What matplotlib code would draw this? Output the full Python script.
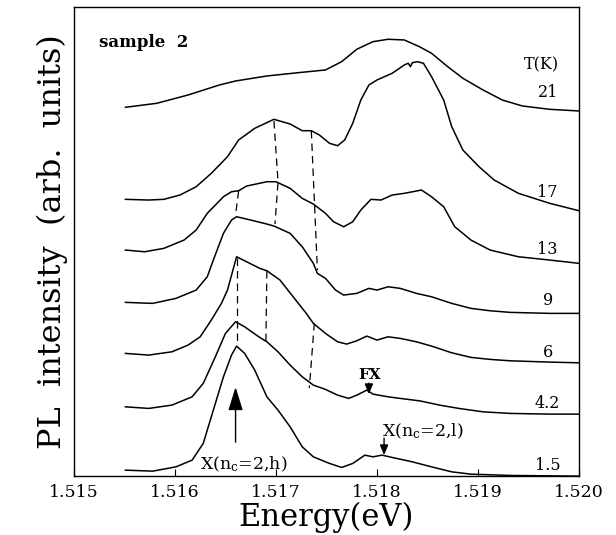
import matplotlib
matplotlib.use("Agg")
import matplotlib.pyplot as plt

plt.rcParams['font.family'] = ['DejaVu Serif']
plt.rcParams['mathtext.fontset'] = 'dejavuserif'

# spectra (energy in eV, PL intensity in arb. units incl. vertical offset)
e_21 = [1.51551, 1.51582, 1.51613, 1.51644, 1.51660, 1.51691, 1.51722, 1.51749, 1.51765, 1.51780,
        1.51796, 1.51811, 1.51827, 1.51842, 1.51854, 1.51870, 1.51885, 1.51905, 1.51924, 1.51944,
        1.51971, 1.52000]
i_21 = [368.7, 372.7, 381, 391, 395, 400, 403.3, 406, 414.3, 426.7,
        434.3, 436.7, 436, 429.3, 422.7, 409.3, 397.7, 386, 376, 370,
        366.7, 365]

e_17 = [1.51551, 1.51574, 1.51589, 1.51605, 1.51621, 1.51636, 1.51652, 1.51663, 1.51679, 1.51698,
        1.51714, 1.51726, 1.51735, 1.51743, 1.51753, 1.51761, 1.51768, 1.51776, 1.51784, 1.51792,
        1.51800, 1.51815, 1.51827, 1.51831, 1.51833, 1.51835, 1.51840, 1.51846, 1.51854, 1.51866,
        1.51874, 1.51885, 1.51901, 1.51916, 1.51940, 1.51971, 1.52000]
i_17 = [276.7, 276, 276.7, 281, 289.3, 302.7, 319.3, 336, 347.7, 356.7,
        352, 345.3, 345.3, 341, 332.7, 330.3, 336, 352.7, 376, 391,
        396, 402.7, 411, 412.7, 409.3, 413.3, 414.3, 412.7, 399.3, 376,
        349.3, 326, 309.3, 296, 282.7, 272.7, 265.3]

e_13 = [1.51551, 1.51570, 1.51589, 1.51609, 1.51621, 1.51632, 1.51648, 1.51656, 1.51663, 1.51671,
        1.51691, 1.51700, 1.51714, 1.51726, 1.51737, 1.51749, 1.51757, 1.51767, 1.51776, 1.51784,
        1.51794, 1.51804, 1.51815, 1.51827, 1.51839, 1.51844, 1.51854, 1.51866, 1.51877, 1.51893,
        1.51912, 1.51940, 1.51971, 1.52000]
i_13 = [226, 224.3, 227.7, 236, 246, 262.7, 279.3, 284.3, 285.3, 290,
        294.3, 294.3, 287.7, 277.7, 272, 262.7, 254.3, 249.3, 254.3, 266,
        276.7, 276, 281, 282.7, 285, 286, 279.3, 269.3, 249.3, 236,
        226, 219.3, 216, 212.7]

e_9 = [1.51551, 1.51578, 1.51601, 1.51621, 1.51632, 1.51638, 1.51648, 1.51656, 1.51661, 1.51675,
       1.51691, 1.51698, 1.51714, 1.51726, 1.51737, 1.51741, 1.51749, 1.51759, 1.51767, 1.51780,
       1.51792, 1.51800, 1.51811, 1.51823, 1.51839, 1.51854, 1.51874, 1.51893, 1.51912, 1.51932,
       1.51971, 1.52000]
i_9 = [173.7, 172.7, 177.7, 186, 199.3, 216, 242.7, 256, 259.3, 256,
       252, 250, 242.7, 229.3, 212.7, 202.7, 197.7, 186, 181, 182.7,
       187.7, 186, 189.3, 187.7, 182.7, 179.3, 172.7, 167.7, 165.3, 163.7,
       162.7, 162.7]

e_6 = [1.51551, 1.51574, 1.51597, 1.51613, 1.51625, 1.51636, 1.51646, 1.51652, 1.51661, 1.51684,
       1.51691, 1.51704, 1.51717, 1.51730, 1.51737, 1.51749, 1.51761, 1.51770, 1.51780, 1.51790,
       1.51800, 1.51811, 1.51823, 1.51839, 1.51854, 1.51874, 1.51893, 1.51912, 1.51932, 1.51971,
       1.52000]
i_6 = [122.7, 121, 124.3, 131, 139.3, 156, 172.7, 186, 219.3, 207.7,
       205.3, 196, 179.3, 162.7, 152.7, 142.7, 134.3, 132, 135.3, 140,
       136, 139.3, 137.7, 134.3, 130, 123.3, 118.7, 116.7, 115.3, 114,
       113.3]

e_42 = [1.51551, 1.51574, 1.51597, 1.51617, 1.51628, 1.51640, 1.51650, 1.51660, 1.51669, 1.51683,
        1.51691, 1.51702, 1.51714, 1.51726, 1.51737, 1.51749, 1.51761, 1.51772, 1.51780, 1.51790,
        1.51796, 1.51811, 1.51823, 1.51842, 1.51862, 1.51881, 1.51905, 1.51932, 1.51971, 1.52000]
i_42 = [69.3, 67.7, 71, 79.3, 92.7, 119.3, 142.7, 154.3, 149.3, 139.3,
        134.3, 124.3, 111, 99.3, 91, 86.7, 81, 77.7, 81, 86,
        82, 79.3, 77.7, 75.3, 71, 67.7, 64.3, 62.7, 62, 62]

e_15 = [1.51551, 1.51578, 1.51601, 1.51617, 1.51628, 1.51638, 1.51648, 1.51656, 1.51661, 1.51669,
        1.51679, 1.51691, 1.51702, 1.51714, 1.51726, 1.51737, 1.51753, 1.51765, 1.51776, 1.51788,
        1.51796, 1.51805, 1.51815, 1.51835, 1.51854, 1.51874, 1.51893, 1.51932, 1.52000]
i_15 = [6, 5, 9.3, 16, 32.7, 66, 99.3, 121, 130, 122.7,
        106, 79.3, 66, 49.3, 29.3, 19.3, 12.7, 8.7, 12.7, 21,
        19.3, 21, 18.7, 14.3, 9.3, 4.3, 2, 0.7, 0]

temps = ['21', '17', '13', '9', '6', '4.2', '1.5']
label_y = [383, 283.5, 227, 175.3, 124, 72.7, 10.3]

# dashed guide lines: (energies, intensities)
dash_e = [[1.51663, 1.51660], [1.51661, 1.51661],
          [1.51698, 1.51702], [1.51702, 1.51699], [1.51691, 1.51690],
          [1.51735, 1.51741], [1.51738, 1.51733]]
dash_i = [[285, 261], [218, 134],
          [355, 295], [293, 252], [205, 133],
          [345, 206], [153, 88]]

xticks = [1.515, 1.516, 1.517, 1.518, 1.519, 1.520]
xtick_labels = ['1.515', '1.516', '1.517', '1.518', '1.519', '1.520']

fig = plt.figure(figsize=(6.16, 5.35), dpi=100)
ax = fig.add_axes([0.120, 0.110, 0.820, 0.877])

for e, i in [(e_21, i_21), (e_17, i_17), (e_13, i_13), (e_9, i_9),
             (e_6, i_6), (e_42, i_42), (e_15, i_15)]:
    ax.plot(e, i, color='black', lw=1.1)

for e, i in zip(dash_e, dash_i):
    ax.plot(e, i, color='black', lw=0.9, linestyle=(0, (6, 4)))

for t, y in zip(temps, label_y):
    ax.text(1.51969, y, t, ha='center', va='center', fontsize=11.5)
ax.text(1.51980, 411, 'T(K)', ha='right', va='center', fontsize=11.5)
ax.text(1.51525, 433, 'sample  2', ha='left', va='center', fontsize=12, weight='bold')

# peak markers
ax.annotate('', xy=(1.51660, 89), xytext=(1.51660, 34),
            arrowprops=dict(arrowstyle='-|>,head_length=0.8,head_width=0.25',
                            color='black', lw=1.0, mutation_scale=18, shrinkA=0, shrinkB=0))
ax.text(1.51668, 12, 'X(n$_{\\rm c}$=2,h)', ha='center', va='center', fontsize=12.5)
ax.annotate('', xy=(1.51792, 82), xytext=(1.51792, 93),
            arrowprops=dict(arrowstyle='-|>,head_length=0.6,head_width=0.25',
                            color='black', lw=1.0, mutation_scale=10, shrinkA=0, shrinkB=0))
ax.text(1.51793, 101, 'FX', ha='center', va='center', fontsize=11, weight='bold')
ax.annotate('', xy=(1.51807, 21), xytext=(1.51807, 38),
            arrowprops=dict(arrowstyle='-|>,head_length=0.6,head_width=0.25',
                            color='black', lw=1.0, mutation_scale=10, shrinkA=0, shrinkB=0))
ax.text(1.51845, 45, 'X(n$_{\\rm c}$=2,l)', ha='center', va='center', fontsize=12.5)

ax.set_xlim(1.515, 1.520)
ax.set_ylim(0, 469)
ax.set_xticks(xticks)
ax.set_xticklabels(xtick_labels, fontsize=12.5)
ax.set_yticks([])
ax.tick_params(axis='x', direction='in', length=5, pad=6)
for s in ax.spines.values():
    s.set_linewidth(1.0)

ax.set_xlabel('Energy(eV)', fontsize=22, labelpad=0)
ax.set_ylabel('PL  intensity  (arb.  units)', fontsize=23, labelpad=4)

fig.savefig('out.png', dpi=100)
